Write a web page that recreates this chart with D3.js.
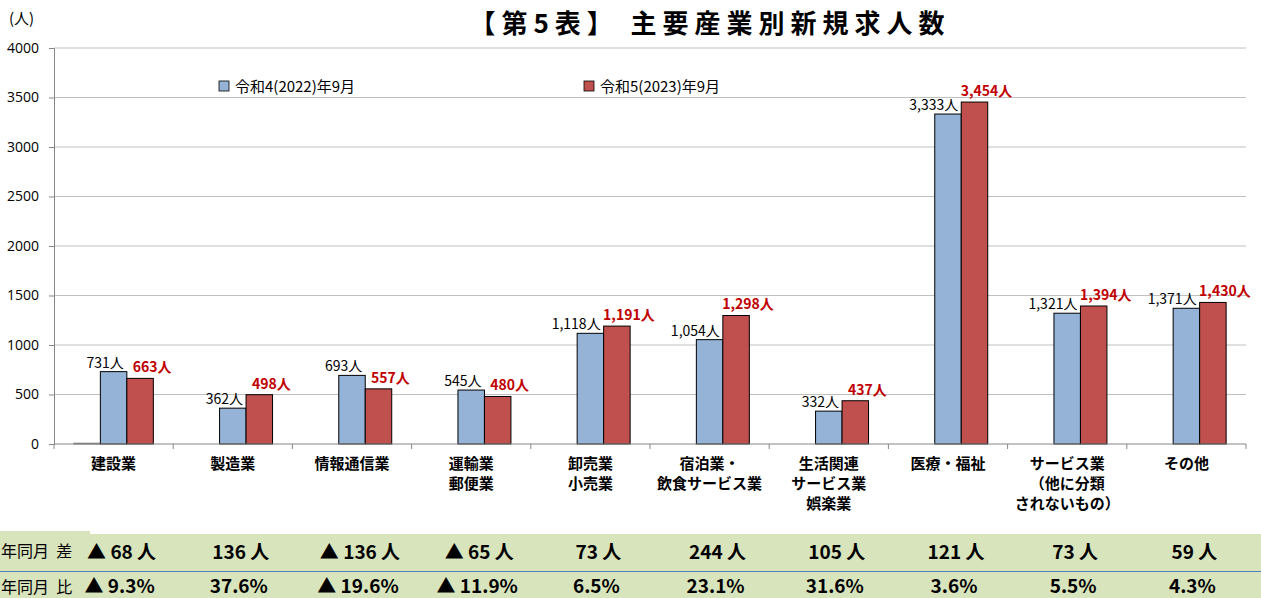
<!DOCTYPE html>
<html>
<head>
<meta charset="utf-8">
<script src="https://cdn.jsdelivr.net/npm/d3@7"></script>
<style>
  body { margin: 0; background: #fff; }
  text { font-family: "Noto Sans CJK JP", "Noto Sans", sans-serif; }
</style>
</head>
<body>
<div id="chart"></div>
<script>
// Data
const categories = [
  ["建設業"],
  ["製造業"],
  ["情報通信業"],
  ["運輸業", "郵便業"],
  ["卸売業", "小売業"],
  ["宿泊業・", "飲食サービス業"],
  ["生活関連", "サービス業", "娯楽業"],
  ["医療・福祉"],
  ["サービス業", "（他に分類", "されないもの）"],
  ["その他"]
];
const seriesNames = ["", "令和4(2022)年9月", "令和5(2023)年9月"];
const ghostValues = [8, 0, 0, 0, 0, 0, 0, 0, 0, 0];
const values2022 = [731, 362, 693, 545, 1118, 1054, 332, 3333, 1321, 1371];
const values2023 = [663, 498, 557, 480, 1191, 1298, 437, 3454, 1394, 1430];
const diffLabels = ["▲ 68 人", "136 人", "▲ 136 人", "▲ 65 人", "73 人", "244 人", "105 人", "121 人", "73 人", "59 人"];
const ratioLabels = ["▲ 9.3%", "37.6%", "▲ 19.6%", "▲ 11.9%", "6.5%", "23.1%", "31.6%", "3.6%", "5.5%", "4.3%"];
const yTicks = [0, 500, 1000, 1500, 2000, 2500, 3000, 3500, 4000];

const width = 1261, height = 598;
const margin = { left: 54, right: 15, top: 48, bottom: 154 };
const colors = ["#a6a6a6", "#95b3d7", "#c0504d"];

const svg = d3.select("#chart").append("svg")
  .attr("width", width).attr("height", height);

const x = d3.scaleBand()
  .domain(d3.range(categories.length))
  .range([margin.left, width - margin.right])
  .paddingInner(0).paddingOuter(0);
const x1 = d3.scaleBand().domain([0, 1, 2])
  .range([0, x.bandwidth()]).paddingInner(0).paddingOuter(0.75);
const y = d3.scaleLinear().domain([0, 4000]).range([height - margin.bottom, margin.top]);

// grid
svg.append("g").selectAll("line").data(yTicks.slice(1)).enter().append("line")
  .attr("x1", margin.left).attr("x2", width - margin.right)
  .attr("y1", d => y(d)).attr("y2", d => y(d))
  .attr("stroke", "#c0c0c0").attr("stroke-width", 1);

// table band
const tbl = svg.append("g");
tbl.append("rect").attr("x", 0).attr("y", 531).attr("width", 90).attr("height", 40).attr("fill", "#d8e4bc");
tbl.append("rect").attr("x", 90).attr("y", 534).attr("width", width - 90).attr("height", 37).attr("fill", "#d8e4bc");
tbl.append("rect").attr("x", 0).attr("y", 572).attr("width", width).attr("height", 26).attr("fill", "#d8e4bc");
tbl.append("line").attr("x1", 0).attr("x2", width).attr("y1", 571.5).attr("y2", 571.5)
  .attr("stroke", "#4f81bd").attr("stroke-width", 1);
tbl.append("text").attr("x", 1).attr("y", 557)
  .attr("font-size", 16).attr("fill", "#000").attr("xml:space", "preserve").text("年同月  差");
tbl.append("text").attr("x", 1).attr("y", 593)
  .attr("font-size", 16).attr("fill", "#000").attr("xml:space", "preserve").text("年同月  比");

tbl.selectAll(".diff").data(diffLabels).enter().append("text")
  .attr("x", (d, i) => x(i) + x.bandwidth() / 2 + 8)
  .attr("y", 559).attr("text-anchor", "middle")
  .attr("font-size", 19).attr("font-weight", "bold").text(d => d);
tbl.selectAll(".ratio").data(ratioLabels).enter().append("text")
  .attr("x", (d, i) => x(i) + x.bandwidth() / 2 + 6)
  .attr("y", 593).attr("text-anchor", "middle")
  .attr("font-size", 19).attr("font-weight", "bold").text(d => d);

// bars
const allSeries = [ghostValues, values2022, values2023];
allSeries.forEach((vals, s) => {
  svg.append("g").selectAll("rect").data(vals).enter().append("rect")
    .filter(d => d > 0)
    .attr("x", (d, i) => x(i) + x1(s))
    .attr("y", d => y(d))
    .attr("width", x1.bandwidth())
    .attr("height", d => y(0) - y(d))
    .attr("fill", colors[s])
    .attr("stroke", s === 0 ? "#7f7f7f" : "#000")
    .attr("stroke-width", 1);
});

// data labels
svg.append("g").selectAll("text").data(values2022).enter().append("text")
  .attr("x", (d, i) => x(i) + x1(1) + x1.bandwidth() - 3)
  .attr("y", d => y(d) - 4)
  .attr("text-anchor", "end").attr("font-size", 14).attr("fill", "#000")
  .text(d => d3.format(",")(d) + "人");
svg.append("g").selectAll("text").data(values2023).enter().append("text")
  .attr("x", (d, i) => x(i) + x1(2) + x1.bandwidth() / 2 + 12)
  .attr("y", d => y(d) - 6)
  .attr("text-anchor", "middle").attr("font-size", 14).attr("font-weight", "bold")
  .attr("fill", "#c00000")
  .text(d => d3.format(",")(d) + "人");

// y axis
const yAxis = svg.append("g").attr("transform", `translate(${margin.left},0)`)
  .call(d3.axisLeft(y).tickValues(yTicks).tickFormat(d3.format("d")).tickSize(5).tickPadding(10));
yAxis.select(".domain").attr("stroke", "#868686");
yAxis.selectAll(".tick line").attr("stroke", "#868686");
yAxis.selectAll("text").attr("font-size", 14).attr("fill", "#000")
  .style("font-family", "'Open Sans', sans-serif");

// x axis
const xAxisG = svg.append("g").attr("transform", `translate(0,${y(0)})`);
xAxisG.append("line").attr("x1", margin.left).attr("x2", width - margin.right)
  .attr("y1", 0).attr("y2", 0).attr("stroke", "#868686");
xAxisG.selectAll(".tk").data(d3.range(categories.length + 1)).enter().append("line")
  .attr("x1", i => margin.left + i * x.bandwidth())
  .attr("x2", i => margin.left + i * x.bandwidth())
  .attr("y1", 0).attr("y2", 5).attr("stroke", "#868686");
categories.forEach((lines, i) => {
  const t = xAxisG.append("text")
    .attr("text-anchor", "middle").attr("font-size", 15).attr("font-weight", "bold")
    .attr("fill", "#000");
  lines.forEach((ln, k) => {
    t.append("tspan").attr("x", x(i) + x.bandwidth() / 2).attr("y", 25 + k * 20).text(ln);
  });
});

// unit label
svg.append("text").attr("x", 9).attr("y", 24).attr("font-size", 15).text("(人)");

// title
svg.append("text").attr("x", 710).attr("y", 33).attr("text-anchor", "middle")
  .attr("font-size", 26).attr("font-weight", "bold").attr("letter-spacing", 6)
  .text("【第5表】 主要産業別新規求人数");

// legend
const legendPos = [null, 219, 584];
[1, 2].forEach(s => {
  const g = svg.append("g").attr("transform", `translate(${legendPos[s]},81)`);
  g.append("rect").attr("width", 10).attr("height", 10)
    .attr("fill", colors[s]).attr("stroke", "#000").attr("stroke-width", 0.8);
  g.append("text").attr("x", 16).attr("y", 11).attr("font-size", 15).text(seriesNames[s]);
});
</script>
</body>
</html>
